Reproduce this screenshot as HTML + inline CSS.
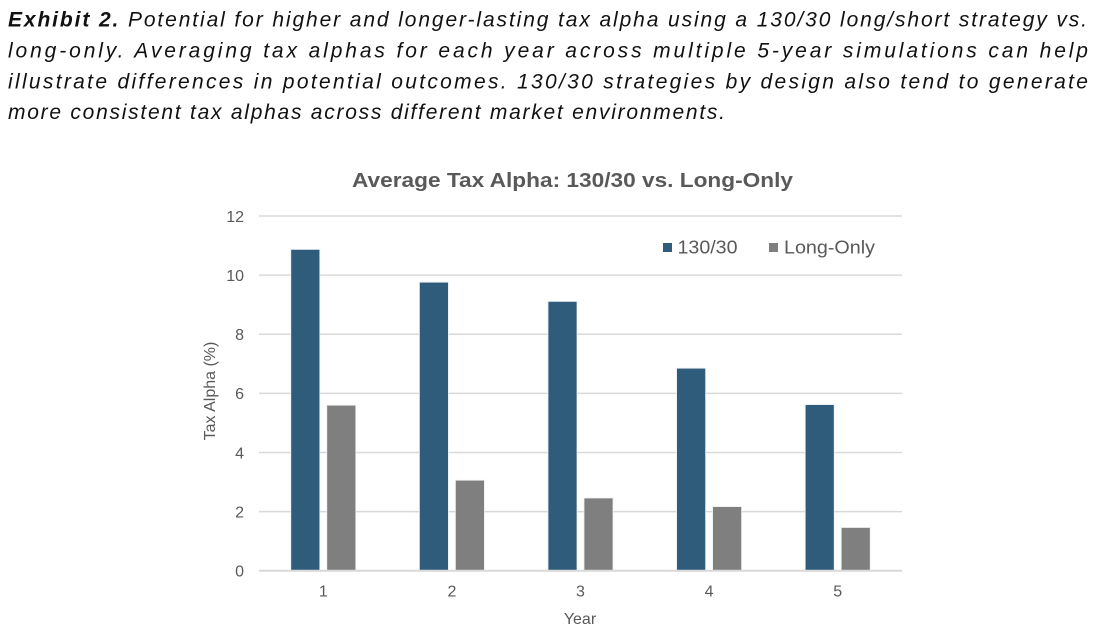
<!DOCTYPE html>
<html>
<head>
<meta charset="utf-8">
<style>
  html, body { margin: 0; padding: 0; background: #ffffff; }
  body { width: 1105px; height: 634px; position: relative; overflow: hidden; }
  svg { position: absolute; left: 0; top: 0; }
</style>
</head>
<body>
<svg width="1105" height="634" viewBox="0 0 1105 634" xmlns="http://www.w3.org/2000/svg">
  <!-- caption -->
  <g font-family="Liberation Sans, Arial, sans-serif" font-style="italic" font-size="21" fill="#111">
    <text x="8" y="26.7" textLength="1079" lengthAdjust="spacing"><tspan font-weight="bold">Exhibit 2.</tspan> Potential for higher and longer-lasting tax alpha using a 130/30 long/short strategy vs.</text>
    <text x="8" y="57.5" textLength="1080" lengthAdjust="spacing">long-only. Averaging tax alphas for each year across multiple 5-year simulations can help</text>
    <text x="8" y="88.3" textLength="1080" lengthAdjust="spacing">illustrate differences in potential outcomes. 130/30 strategies by design also tend to generate</text>
    <text x="8" y="119" textLength="717" lengthAdjust="spacing">more consistent tax alphas across different market environments.</text>
  </g>

  <g font-family="Liberation Sans, Arial, sans-serif">
    <!-- title -->
    <text x="572.5" y="187" text-anchor="middle" font-size="20" font-weight="bold" fill="#595959" textLength="441" lengthAdjust="spacingAndGlyphs">Average Tax Alpha: 130/30 vs. Long-Only</text>

    <!-- gridlines -->
    <g stroke="#d9d9d9" stroke-width="1.5">
      <line x1="259" x2="902" y1="216.0" y2="216.0"/>
      <line x1="259" x2="902" y1="275.1" y2="275.1"/>
      <line x1="259" x2="902" y1="334.3" y2="334.3"/>
      <line x1="259" x2="902" y1="393.4" y2="393.4"/>
      <line x1="259" x2="902" y1="452.5" y2="452.5"/>
      <line x1="259" x2="902" y1="511.6" y2="511.6"/>
    </g>

    <!-- y tick labels -->
    <g font-size="16" fill="#595959" text-anchor="end">
      <text x="244" y="221.8">12</text>
      <text x="244" y="280.9">10</text>
      <text x="244" y="340.1">8</text>
      <text x="244" y="399.2">6</text>
      <text x="244" y="458.3">4</text>
      <text x="244" y="517.4">2</text>
      <text x="244" y="576.5">0</text>
    </g>

    <!-- bars 130/30 -->
    <g fill="#2e5c7a" stroke="#e8eef2" stroke-width="0.8">
      <rect x="290.8" y="249.4" width="29" height="321.3"/>
      <rect x="419.4" y="282.2" width="29" height="288.5"/>
      <rect x="548.0" y="301.4" width="29" height="269.3"/>
      <rect x="676.6" y="368.2" width="29" height="202.5"/>
      <rect x="805.2" y="404.6" width="29" height="166.1"/>
    </g>
    <!-- bars long-only -->
    <g fill="#7f7f7f" stroke="#eeeeee" stroke-width="0.8">
      <rect x="326.8" y="405.2" width="29" height="165.5"/>
      <rect x="455.4" y="480.2" width="29" height="90.5"/>
      <rect x="584.0" y="498.0" width="29" height="72.7"/>
      <rect x="712.6" y="506.6" width="29" height="64.1"/>
      <rect x="841.2" y="527.5" width="29" height="43.2"/>
    </g>

    <!-- baseline -->
    <line x1="259" x2="902" y1="570.7" y2="570.7" stroke="#d9d9d9" stroke-width="2"/>

    <!-- x labels -->
    <g font-size="16" fill="#595959" text-anchor="middle">
      <text x="323.3" y="596.7">1</text>
      <text x="451.9" y="596.7">2</text>
      <text x="580.5" y="596.7">3</text>
      <text x="709.1" y="596.7">4</text>
      <text x="837.7" y="596.7">5</text>
      <text x="580" y="624">Year</text>
    </g>

    <!-- y axis title -->
    <text transform="translate(215,391) rotate(-90)" text-anchor="middle" font-size="16" fill="#595959">Tax Alpha (%)</text>

    <!-- legend -->
    <rect x="663" y="243" width="9" height="9" fill="#2e5c7a"/>
    <text x="677.5" y="253.3" font-size="18" fill="#595959" textLength="60" lengthAdjust="spacingAndGlyphs">130/30</text>
    <rect x="769" y="243" width="9" height="9" fill="#7f7f7f"/>
    <text x="784" y="253.3" font-size="18" fill="#595959" textLength="91" lengthAdjust="spacingAndGlyphs">Long-Only</text>
  </g>
</svg>
</body>
</html>
